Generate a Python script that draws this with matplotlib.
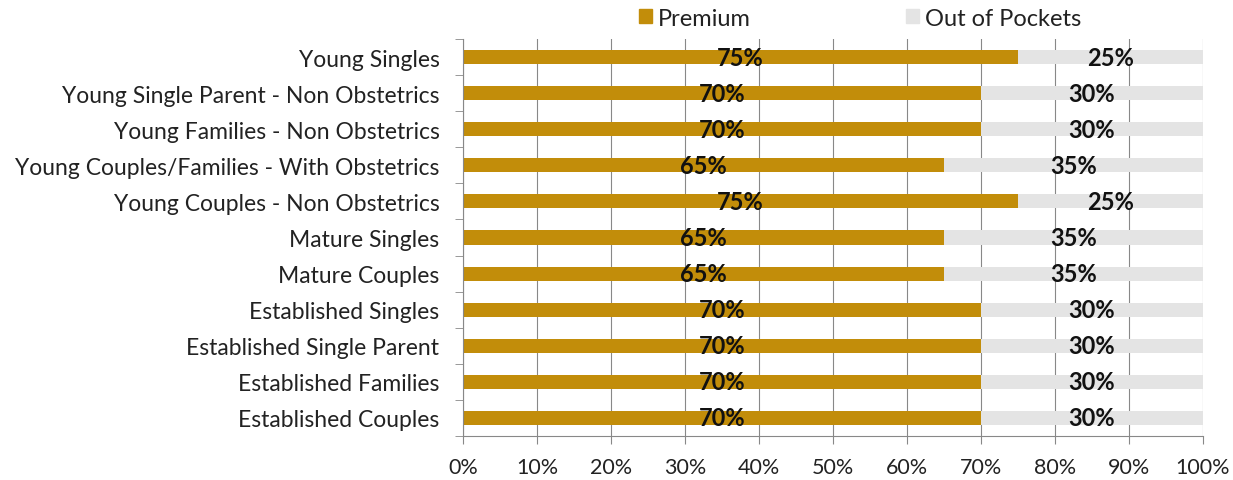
import numpy as np
import matplotlib.pyplot as plt
from matplotlib.patches import Patch

plt.rcParams['font.family'] = ['Lato', 'DejaVu Sans']

segments = [
    "Young Singles",
    "Young Single Parent - Non Obstetrics",
    "Young Families - Non Obstetrics",
    "Young Couples/Families - With Obstetrics",
    "Young Couples - Non Obstetrics",
    "Mature Singles",
    "Mature Couples",
    "Established Singles",
    "Established Single Parent",
    "Established Families",
    "Established Couples",
]
premium = [75, 70, 70, 65, 75, 65, 65, 70, 70, 70, 70]
out_of_pocket = [25, 30, 30, 35, 25, 35, 35, 30, 30, 30, 30]

gold = '#C28D0A'
grey = '#E4E4E4'

fig = plt.figure(figsize=(12.33, 4.81), dpi=100)
ax = fig.add_axes([463 / 1233, 1 - 437 / 481, 740 / 1233, 397 / 481])

y = np.arange(len(segments))[::-1]
h = 0.39
prem = np.array(premium) / 100
oop = np.array(out_of_pocket) / 100
ax.barh(y, prem, height=h, color=gold, zorder=2)
ax.barh(y, oop, left=prem, height=h, color=grey, zorder=2)

for yi, p, o in zip(y, premium, out_of_pocket):
    ax.text(p / 200, yi, f'{p}%', ha='center', va='center', fontsize=17,
            fontweight='bold', color='#111111', zorder=3)
    ax.text(p / 100 + o / 200, yi, f'{o}%', ha='center', va='center', fontsize=17,
            fontweight='bold', color='#111111', zorder=3)

ax.set_xlim(0, 1)
ax.set_ylim(-0.5, len(segments) - 0.5)
ax.set_xticks(np.linspace(0, 1, 11))
ax.set_xticklabels([f'{int(v)}%' for v in np.linspace(0, 100, 11)], fontsize=15.5, color='#222222')
ax.set_yticks(y)
ax.set_yticklabels(segments, fontsize=16.5, color='#222222')
ax.set_yticks(np.arange(-0.5, len(segments), 1), minor=True)
ax.tick_params(axis='y', which='major', length=0, pad=17)
ax.tick_params(axis='y', which='minor', length=6, color='#888888')
ax.tick_params(axis='x', length=6, color='#888888', pad=9)
ax.grid(axis='x', color='#888888', linewidth=0.8, zorder=0)

for s in ['top', 'right']:
    ax.spines[s].set_visible(False)
for s in ['left', 'bottom']:
    ax.spines[s].set_color('#888888')

handles = [Patch(color=gold, label='Premium'), Patch(color=grey, label='Out of Pockets')]
fig.legend(handles=handles, loc='center', bbox_to_anchor=(860 / 1233, 1 - 19 / 481), ncol=2,
           frameon=False, fontsize=17, handlelength=0.55, handleheight=0.55,
           handletextpad=0.25, columnspacing=6.6, labelcolor='#222222')

fig.savefig('out.png', dpi=100)
